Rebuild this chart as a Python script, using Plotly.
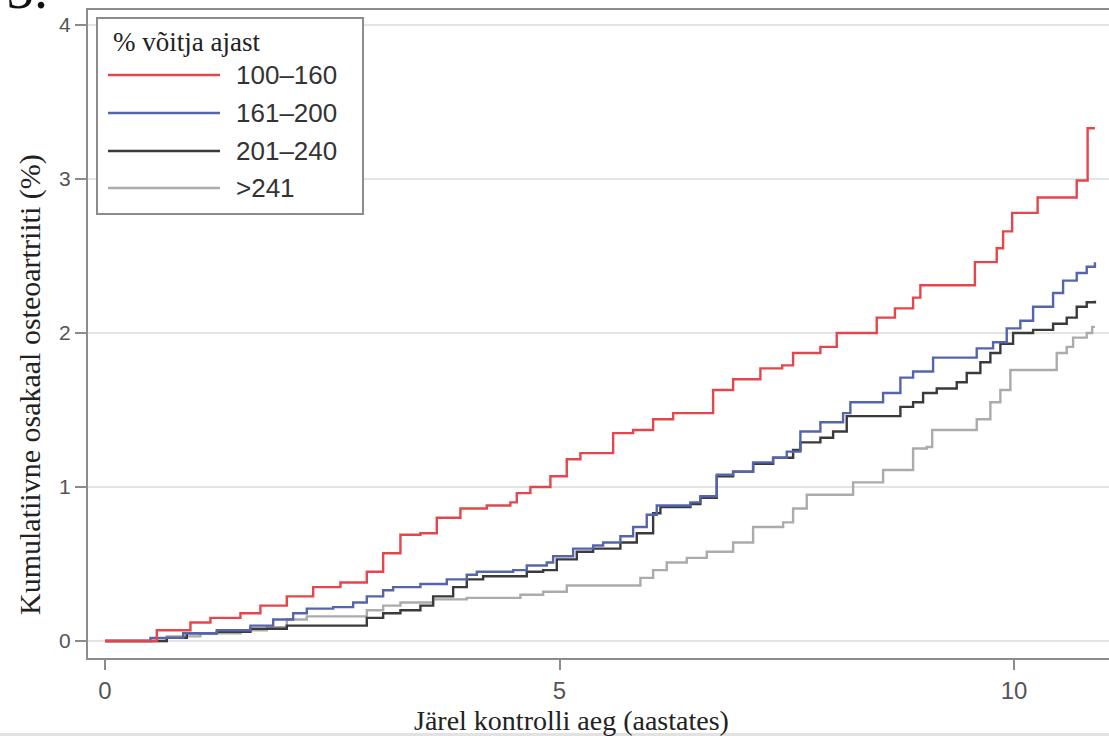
import plotly.graph_objects as go

# ---- data ----
series_names = ["100–160", "161–200", "201–240", ">241"]

red_x = [0, 0.57, 0.94, 1.16, 1.49, 1.71, 2.00, 2.29, 2.59, 2.88, 3.06, 3.25, 3.47, 3.65, 3.91,
         4.20, 4.46, 4.53, 4.68, 4.90, 5.08, 5.23, 5.59, 5.81, 6.03, 6.25, 6.69, 6.91, 7.21, 7.45,
         7.57, 7.87, 8.05, 8.49, 8.69, 8.89, 8.97, 9.57, 9.81, 9.88, 9.98, 10.26, 10.69, 10.81, 10.89]
red_y = [0, 0.07, 0.12, 0.15, 0.18, 0.23, 0.29, 0.35, 0.38, 0.45, 0.57, 0.69, 0.70, 0.80, 0.86,
         0.88, 0.90, 0.96, 1.00, 1.07, 1.18, 1.22, 1.35, 1.37, 1.44, 1.48, 1.63, 1.70, 1.77, 1.79,
         1.87, 1.91, 2.00, 2.10, 2.16, 2.23, 2.31, 2.46, 2.55, 2.66, 2.78, 2.88, 2.99, 3.33, 3.33]

blue_x = [0, 0.50, 0.86, 1.23, 1.60, 1.85, 2.07, 2.22, 2.51, 2.73, 2.88, 3.06, 3.17, 3.47, 3.76,
          3.98, 4.09, 4.49, 4.64, 4.86, 4.93, 5.15, 5.37, 5.48, 5.67, 5.81, 5.96, 6.07, 6.44, 6.55,
          6.73, 6.91, 7.13, 7.35, 7.50, 7.65, 7.87, 8.12, 8.20, 8.56, 8.75, 8.89, 9.11, 9.59, 9.77,
          9.92, 10.07, 10.21, 10.43, 10.54, 10.69, 10.80, 10.89]
blue_y = [0, 0.02, 0.05, 0.07, 0.10, 0.14, 0.18, 0.21, 0.22, 0.25, 0.29, 0.33, 0.35, 0.37, 0.40,
          0.43, 0.45, 0.46, 0.49, 0.51, 0.55, 0.60, 0.62, 0.64, 0.68, 0.74, 0.82, 0.88, 0.90, 0.94,
          1.08, 1.10, 1.16, 1.19, 1.23, 1.36, 1.42, 1.48, 1.55, 1.61, 1.71, 1.75, 1.84, 1.90, 1.94,
          2.03, 2.08, 2.17, 2.26, 2.34, 2.39, 2.43, 2.46]

dark_x = [0, 0.68, 0.90, 1.23, 1.60, 2.00, 2.88, 3.06, 3.25, 3.47, 3.61, 3.83, 3.98, 4.16, 4.64,
          4.82, 4.97, 5.19, 5.37, 5.67, 5.85, 6.03, 6.11, 6.44, 6.55, 6.73, 6.91, 7.13, 7.35, 7.57,
          7.65, 7.87, 8.01, 8.16, 8.75, 8.89, 9.00, 9.15, 9.37, 9.48, 9.63, 9.74, 9.85, 9.99, 10.21,
          10.43, 10.58, 10.69, 10.80, 10.89]
dark_y = [0, 0.02, 0.05, 0.06, 0.08, 0.10, 0.15, 0.18, 0.20, 0.23, 0.29, 0.35, 0.40, 0.42, 0.45,
          0.46, 0.53, 0.58, 0.60, 0.64, 0.70, 0.83, 0.87, 0.89, 0.93, 1.07, 1.10, 1.15, 1.19, 1.24,
          1.29, 1.32, 1.36, 1.46, 1.52, 1.55, 1.61, 1.64, 1.68, 1.74, 1.81, 1.87, 1.93, 2.00, 2.02,
          2.06, 2.10, 2.17, 2.20, 2.21]

gray_x = [0, 0.68, 1.05, 1.49, 1.78, 2.00, 2.22, 2.88, 3.06, 3.25, 3.61, 3.98, 4.57, 4.82, 5.08,
          5.89, 6.03, 6.18, 6.40, 6.62, 6.91, 7.13, 7.46, 7.57, 7.72, 8.23, 8.56, 8.89, 9.04, 9.10,
          9.59, 9.74, 9.85, 9.96, 10.47, 10.58, 10.65, 10.80, 10.86, 10.89]
gray_y = [0, 0.03, 0.05, 0.07, 0.09, 0.14, 0.16, 0.20, 0.23, 0.25, 0.27, 0.28, 0.30, 0.32, 0.36,
          0.41, 0.46, 0.51, 0.54, 0.58, 0.64, 0.74, 0.77, 0.86, 0.95, 1.03, 1.11, 1.25, 1.26, 1.37,
          1.44, 1.55, 1.63, 1.76, 1.87, 1.91, 1.97, 2.00, 2.04, 2.04]

x_ticks = [0, 5, 10]
y_ticks = [0, 1, 2, 3, 4]
x_title = "Järel kontrolli aeg (aastates)"
y_title = "Kumulatiivne osakaal osteoartriiti (%)"
legend_title = "% võitja ajast"

colors = ["#e4474b", "#5565ad", "#3a3a3a", "#ababab"]

# ---- figure geometry (page pixels) ----
W, H = 1109, 736
ML, MR, MT, MB = 88, 0, 10, 78
PW, PH = W - ML - MR, H - MT - MB
X_PX_PER_UNIT = 90.9
Y_PX_PER_UNIT = 154.0
X0_PX = 105   # page x of data x=0
Y0_PX = 641   # page y of data y=0


def px(xp):
    return (xp - ML) / PW


def py(yp):
    return (H - MB - yp) / PH


SERIF = "Liberation Serif, Times New Roman, serif"
SANS = "Liberation Sans, Arial, sans-serif"

fig = go.Figure()
data = [(gray_x, gray_y, 3), (dark_x, dark_y, 2), (blue_x, blue_y, 1), (red_x, red_y, 0)]
for xs, ys, i in data:
    fig.add_trace(go.Scatter(x=xs, y=ys, mode="lines", line_shape="hv",
                             line=dict(color=colors[i], width=2.4),
                             name=series_names[i], showlegend=False))

shapes = []
annotations = []

# legend box (drawn manually for the long line samples)
shapes.append(dict(type="rect", xref="paper", yref="paper",
                   x0=px(97), x1=px(363), y0=py(214), y1=py(18),
                   line=dict(color="#8c8c8c", width=2), fillcolor="white", layer="above"))
annotations.append(dict(text=legend_title, xref="paper", yref="paper", x=px(111), y=py(42),
                        xanchor="left", yanchor="middle", showarrow=False,
                        font=dict(family=SERIF, size=27, color="#222")))
entry_y = [75, 113, 151, 188]
for i, name in enumerate(series_names):
    shapes.append(dict(type="line", xref="paper", yref="paper",
                       x0=px(108), x1=px(220), y0=py(entry_y[i]), y1=py(entry_y[i]),
                       line=dict(color=colors[i], width=2.4), layer="above"))
    annotations.append(dict(text=name, xref="paper", yref="paper", x=px(234), y=py(entry_y[i]),
                            xanchor="left", yanchor="middle", showarrow=False,
                            font=dict(family=SANS, size=26, color="#333")))

# axis titles
annotations.append(dict(text=x_title, xref="paper", yref="paper", x=px(571), y=py(720),
                        xanchor="center", yanchor="middle", showarrow=False,
                        font=dict(family=SERIF, size=28, color="#222")))
annotations.append(dict(text=y_title, xref="paper", yref="paper", x=px(30), y=py(385),
                        xanchor="center", yanchor="middle", showarrow=False, textangle=-90,
                        font=dict(family=SERIF, size=30, color="#222")))
# partial panel label cut off at the top (as in the reference)
annotations.append(dict(text="5.", xref="paper", yref="paper", x=px(4), y=py(22),
                        xanchor="left", yanchor="bottom", showarrow=False,
                        font=dict(family=SERIF, size=56, color="#111")))

# faint strip at the bottom edge
shapes.append(dict(type="rect", xref="paper", yref="paper", x0=px(0), x1=px(W),
                   y0=py(H), y1=py(H - 3), line=dict(width=0), fillcolor="#e2e2e2", layer="above"))

fig.update_layout(
    width=W, height=H,
    margin=dict(l=ML, r=MR, t=MT, b=MB, pad=0),
    paper_bgcolor="white", plot_bgcolor="white",
    shapes=shapes, annotations=annotations,
    xaxis=dict(range=[(ML - X0_PX) / X_PX_PER_UNIT, (W - MR - X0_PX) / X_PX_PER_UNIT],
               tickvals=x_ticks, ticktext=[str(v) for v in x_ticks],
               ticks="outside", ticklen=10, tickwidth=2, tickcolor="#8c8c8c",
               showline=True, linecolor="#8c8c8c", linewidth=2, mirror=True,
               showgrid=False, zeroline=False,
               tickfont=dict(family=SANS, size=24, color="#555")),
    yaxis=dict(range=[(Y0_PX - (H - MB)) / Y_PX_PER_UNIT, (Y0_PX - MT) / Y_PX_PER_UNIT],
               tickvals=y_ticks, ticktext=[str(v) for v in y_ticks],
               ticks="outside", ticklen=11, tickwidth=2, tickcolor="#8c8c8c",
               showline=True, linecolor="#8c8c8c", linewidth=2, mirror=False,
               showgrid=True, gridcolor="#e4e4e4", gridwidth=2, zeroline=False,
               tickfont=dict(family=SANS, size=21, color="#555")),
)

fig.write_html("out.html", config={"displayModeBar": False},
               post_script="document.body.style.margin='0px';document.body.style.overflow='hidden';")
